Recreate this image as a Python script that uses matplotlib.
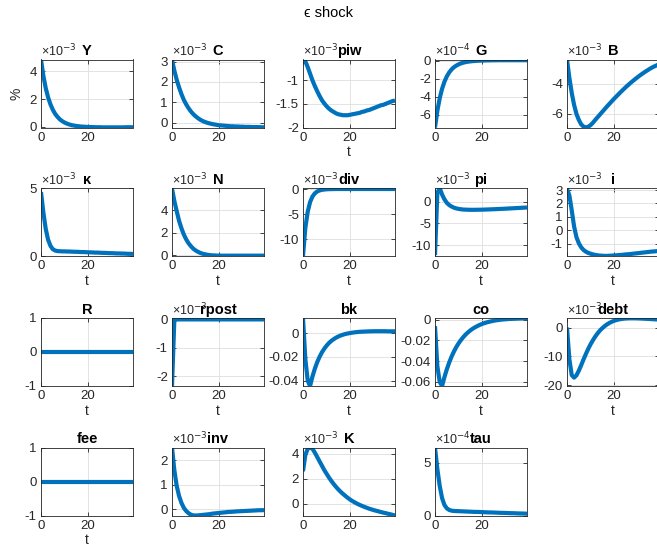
import numpy as np
import matplotlib.pyplot as plt
from matplotlib.ticker import FuncFormatter

plt.rcParams['font.family'] = ['Liberation Sans', 'DejaVu Sans']
plt.rcParams['axes.unicode_minus'] = False

t = np.arange(40)

# impulse responses, in the units shown on each axis (see exponents below)
Y = [4.87, 3.69, 2.80, 2.13, 1.62, 1.23, 0.93, 0.71, 0.53, 0.40,
     0.30, 0.22, 0.16, 0.11, 0.08, 0.05, 0.03, 0.01, 0.00, -0.01,
     -0.02, -0.03, -0.03, -0.04, -0.04, -0.04, -0.05, -0.05, -0.05, -0.05,
     -0.05, -0.05, -0.05, -0.05, -0.05, -0.05, -0.04, -0.04, -0.04, -0.04]
C = [3.09, 2.55, 2.10, 1.73, 1.40, 1.12, 0.90, 0.71, 0.55, 0.42,
     0.31, 0.22, 0.14, 0.08, 0.03, -0.01, -0.04, -0.07, -0.09, -0.11,
     -0.13, -0.14, -0.15, -0.16, -0.17, -0.18, -0.18, -0.19, -0.19, -0.20,
     -0.20, -0.21, -0.21, -0.21, -0.22, -0.22, -0.22, -0.22, -0.23, -0.23]
piw = [-0.56, -0.60, -0.72, -0.86, -1.00, -1.12, -1.23, -1.33, -1.42, -1.49,
       -1.55, -1.60, -1.64, -1.67, -1.70, -1.72, -1.73, -1.74, -1.74, -1.74,
       -1.73, -1.72, -1.71, -1.70, -1.69, -1.67, -1.66, -1.64, -1.63, -1.61,
       -1.59, -1.57, -1.55, -1.53, -1.52, -1.50, -1.48, -1.46, -1.44, -1.43]
G = [-7.43, -5.57, -4.18, -3.13, -2.35, -1.76, -1.32, -0.99, -0.74, -0.56,
     -0.42, -0.31, -0.23, -0.17, -0.12, -0.09, -0.06, -0.04, -0.02, -0.01,
     0.00, 0.01, 0.02, 0.02, 0.03, 0.03, 0.03, 0.04, 0.04, 0.04,
     0.04, 0.04, 0.04, 0.04, 0.04, 0.04, 0.04, 0.04, 0.04, 0.04]
B = [-2.38, -3.60, -4.60, -5.40, -6.00, -6.40, -6.70, -6.85, -6.90, -6.86,
     -6.75, -6.59, -6.40, -6.22, -6.04, -5.86, -5.68, -5.50, -5.33, -5.16,
     -4.99, -4.83, -4.67, -4.51, -4.36, -4.21, -4.07, -3.93, -3.80, -3.67,
     -3.55, -3.43, -3.32, -3.21, -3.11, -3.01, -2.92, -2.84, -2.77, -2.70]
kappa = [4.70, 3.20, 2.00, 1.20, 0.75, 0.50, 0.40, 0.36, 0.35, 0.34,
         0.34, 0.33, 0.33, 0.32, 0.31, 0.31, 0.30, 0.29, 0.29, 0.28,
         0.27, 0.27, 0.26, 0.25, 0.25, 0.24, 0.23, 0.23, 0.22, 0.21,
         0.21, 0.20, 0.19, 0.19, 0.18, 0.18, 0.17, 0.16, 0.16, 0.15]
N = [5.90, 4.80, 3.90, 3.05, 2.40, 1.85, 1.42, 1.08, 0.82, 0.60,
     0.44, 0.32, 0.22, 0.15, 0.10, 0.06, 0.03, 0.01, 0.00, -0.01,
     -0.02, -0.02, -0.02, -0.02, -0.02, -0.02, -0.02, -0.02, -0.02, -0.02,
     -0.02, -0.02, -0.02, -0.02, -0.02, -0.02, -0.02, -0.02, -0.02, -0.02]
div = [-13.3, -7.7, -4.5, -2.6, -1.5, -0.87, -0.50, -0.29, -0.17, -0.10,
       -0.06, -0.03, -0.02, -0.01, 0.0, 0.0, 0.0, 0.0, 0.0, 0.0,
       0.0, 0.0, 0.0, 0.0, 0.0, 0.0, 0.0, 0.0, 0.0, 0.0,
       0.0, 0.0, 0.0, 0.0, 0.0, 0.0, 0.0, 0.0, 0.0, 0.0]
pi = [-12.3, 2.0, 3.1, 1.6, 0.5, -0.3, -0.8, -1.15, -1.4, -1.58,
      -1.70, -1.78, -1.84, -1.87, -1.89, -1.90, -1.90, -1.90, -1.89, -1.88,
      -1.87, -1.85, -1.83, -1.81, -1.79, -1.77, -1.74, -1.72, -1.69, -1.67,
      -1.64, -1.61, -1.58, -1.55, -1.52, -1.49, -1.46, -1.43, -1.40, -1.37]
i = [3.10, 2.60, 1.50, 0.30, -0.50, -0.95, -1.25, -1.45, -1.58, -1.67,
     -1.73, -1.78, -1.82, -1.85, -1.87, -1.88, -1.89, -1.89, -1.88, -1.87,
     -1.86, -1.85, -1.83, -1.82, -1.80, -1.78, -1.77, -1.75, -1.73, -1.71,
     -1.69, -1.67, -1.65, -1.63, -1.61, -1.59, -1.57, -1.56, -1.54, -1.52]
R = [0.0] * 40
rpost = [-2.35] + [0.0] * 39
bk = [0.0127, -0.022, -0.040, -0.0444, -0.0365, -0.0300, -0.0245, -0.0200, -0.0162, -0.0131,
      -0.0105, -0.0083, -0.0065, -0.0051, -0.0038, -0.0028, -0.0020, -0.0013, -0.0007, -0.0003,
      0.0001, 0.0004, 0.0007, 0.0009, 0.0011, 0.0012, 0.0013, 0.0014, 0.0015, 0.0015,
      0.0016, 0.0016, 0.0016, 0.0016, 0.0016, 0.0016, 0.0015, 0.0015, 0.0015, 0.0015]
co = [-0.0064, -0.045, -0.060, -0.064, -0.0554, -0.0480, -0.0415, -0.0358, -0.0309, -0.0266,
      -0.0229, -0.0197, -0.0169, -0.0144, -0.0123, -0.0104, -0.0088, -0.0074, -0.0062, -0.0051,
      -0.0042, -0.0034, -0.0027, -0.0021, -0.0016, -0.0011, -0.0007, -0.0004, -0.0001, 0.0001,
      0.0003, 0.0005, 0.0006, 0.0007, 0.0008, 0.0009, 0.0010, 0.0011, 0.0011, 0.0012]
debt = [0.0, -11.0, -16.5, -17.4, -16.6, -15.0, -13.1, -11.1, -9.2, -7.4,
        -5.8, -4.4, -3.1, -2.0, -1.0, -0.2, 0.5, 1.1, 1.6, 2.0,
        2.35, 2.6, 2.8, 2.95, 3.05, 3.12, 3.16, 3.18, 3.18, 3.17,
        3.15, 3.12, 3.08, 3.04, 3.00, 2.95, 2.90, 2.85, 2.80, 2.75]
fee = [0.0] * 40
inv = [2.53, 1.60, 0.96, 0.55, 0.27, 0.07, -0.06, -0.15, -0.21, -0.24,
       -0.245, -0.24, -0.23, -0.22, -0.21, -0.20, -0.19, -0.17, -0.16, -0.15,
       -0.14, -0.13, -0.12, -0.11, -0.10, -0.095, -0.09, -0.08, -0.075, -0.07,
       -0.065, -0.06, -0.055, -0.05, -0.045, -0.04, -0.035, -0.03, -0.03, -0.025]
K = [2.60, 3.90, 4.40, 4.50, 4.40, 4.10, 3.75, 3.40, 3.05, 2.70,
     2.40, 2.10, 1.83, 1.58, 1.35, 1.14, 0.95, 0.78, 0.62, 0.47,
     0.33, 0.21, 0.10, 0.00, -0.09, -0.17, -0.25, -0.32, -0.39, -0.45,
     -0.51, -0.56, -0.61, -0.66, -0.71, -0.75, -0.80, -0.84, -0.89, -0.94]
tau = [6.45, 4.40, 2.80, 1.65, 1.00, 0.68, 0.53, 0.46, 0.43, 0.42,
       0.41, 0.40, 0.39, 0.38, 0.37, 0.36, 0.35, 0.34, 0.34, 0.33,
       0.32, 0.31, 0.30, 0.29, 0.29, 0.28, 0.27, 0.26, 0.25, 0.25,
       0.24, 0.23, 0.22, 0.22, 0.21, 0.20, 0.19, 0.19, 0.18, 0.17]

series = [Y, C, piw, G, B,
          kappa, N, div, pi, i,
          R, rpost, bk, co, debt,
          fee, inv, K, tau]
titles = ['Y', 'C', 'piw', 'G', 'B',
          'κ', 'N', 'div', 'pi', 'i',
          'R', 'rpost', 'bk', 'co', 'debt',
          'fee', 'inv', 'K', 'tau']
exponents = [-3, -3, -3, -4, -3,
             -3, -3, -3, -3, -3,
             0, -3, 0, 0, -3,
             0, -3, -3, -4]
ylims = [(-0.06, 4.87), (-0.24, 3.1), (-2.0, -0.56), (-7.43, 0.12), (-6.91, -2.38),
         (0, 5), (-0.05, 5.95), (-13.3, 0.2), (-12.5, 3.1), (-1.9, 3.15),
         (-1, 1), (-2.35, 0.05), (-0.0444, 0.0127), (-0.064, 0.0015), (-20.3, 3.3),
         (-1, 1), (-0.245, 2.53), (-0.94, 4.5), (0, 6.45)]
yticks = [[0, 2, 4], [0, 1, 2, 3], [-2, -1.5, -1], [-6, -4, -2, 0], [-6, -4],
          [0, 5], [0, 2, 4], [-10, -5, 0], [-10, -5, 0], [-1, 0, 1, 2, 3],
          [-1, 0, 1], [-2, -1, 0], [-0.04, -0.02, 0], [-0.06, -0.04, -0.02, 0], [-20, -10, 0],
          [-1, 0, 1], [0, 1, 2], [0, 2, 4], [0, 5]]
with_t = ['piw', 'κ', 'N', 'div', 'pi', 'i', 'R', 'rpost', 'bk', 'co', 'debt', 'fee']

# subplot grid in pixels (657x552 figure)
W, H = 657, 552
col_left = [41, 172, 303, 435, 567]
row_top = [59.5, 188, 318, 447.5]
ax_w, ax_h = 92, 68

fig = plt.figure(figsize=(W / 100, H / 100), dpi=100)
fig.text(0.5, 1 - 13 / H, 'ϵ shock', ha='center', va='center', fontsize=10.5,
         family=['Liberation Sans', 'DejaVu Sans'])

for k, vals in enumerate(series):
    r, c = divmod(k, 5)
    ax = fig.add_axes([col_left[c] / W, 1 - (row_top[r] + ax_h) / H, ax_w / W, ax_h / H])
    scale = 10.0 ** exponents[k]
    ax.plot(t, np.array(vals) * scale, color='#0072BD', lw=3, solid_capstyle='butt')

    ax.set_xlim(0, 39)
    ax.set_xticks([0, 20])
    lo, hi = ylims[k]
    ax.set_ylim(lo * scale, hi * scale)
    ax.set_yticks(np.array(yticks[k]) * scale)
    ax.yaxis.set_major_formatter(FuncFormatter(lambda v, p, s=scale: '%g' % round(v / s, 6)))

    ax.grid(True, color='0.87', lw=0.6)
    ax.set_axisbelow(True)
    ax.tick_params(direction='in', top=True, right=True, length=3, width=0.6,
                   colors='0.15', labelsize=9.5, pad=3)
    for sp in ax.spines.values():
        sp.set_color('0.15')
        sp.set_linewidth(0.6)

    ax.set_title(titles[k], fontsize=10.5, fontweight='bold', pad=3)
    if exponents[k] != 0:
        ax.text(0, 1.0, '×10$^{%d}$' % exponents[k], transform=ax.transAxes,
                ha='left', va='bottom', fontsize=9, color='0.15')
    if titles[k] in with_t:
        ax.set_xlabel('t', fontsize=10, labelpad=1, color='0.15')
    if k == 0:
        ax.set_ylabel('%', fontsize=10, color='0.15')

fig.savefig('out.png', dpi=100)
